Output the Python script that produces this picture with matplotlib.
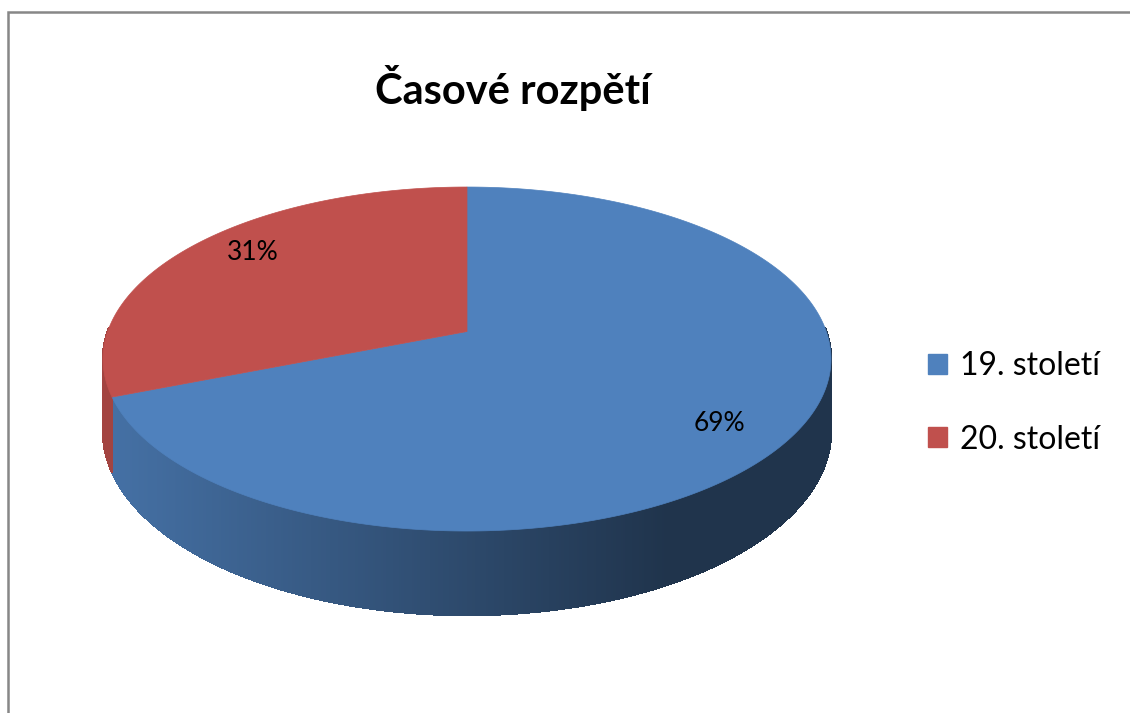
import numpy as np
import matplotlib
matplotlib.use("Agg")
import matplotlib.pyplot as plt
from matplotlib.collections import PolyCollection
from matplotlib.patches import Polygon, Patch
from matplotlib.colors import to_rgb

title = "Časové rozpětí"
categories = ["19. století", "20. století"]
values = [69, 31]
colors = ["#4F81BD", "#C0504D"]

FONT = ["Lato", "DejaVu Sans"]
W, H = 1130, 713
fig = plt.figure(figsize=(11.3, 7.13), dpi=100)
ax = fig.add_axes([0, 0, 1, 1])
ax.set_xlim(0, W)
ax.set_ylim(H, 0)
ax.axis("off")

# border of chart area (left + top visible)
ax.plot([8, 8, W + 5], [H + 5, 12, 12], color="#878787", lw=1.8,
        solid_joinstyle="miter", clip_on=False)

# perspective pie geometry
cx, cy, rx, ry, depth, persp = 467, 331.5, 359.3, 167.6, 70.6, 0.16
total = float(sum(values))

def proj(X, Y):
    s = 1.0 / (1.0 + persp * Y)
    return cx + rx * X * s, cy - ry * Y * s, s

def pt(t, k=1.0):
    r = np.radians(t)
    x, y, s = proj(k * np.cos(r), k * np.sin(r))
    return x, y, s

ranges = []
a = 90.0
for v in values:
    sweep = 360.0 * v / total
    ranges.append((a - sweep, a))
    a -= sweep

xs_f = [0.0, 0.5, 0.78, 1.0]
fs = [0.88, 0.57, 0.40, 0.40]

polys, fcs = [], []
for (t1, t2), col in zip(ranges, colors):
    base = np.array(to_rgb(col))
    ts = np.linspace(t1, t2, 700)
    for u, w in zip(ts[:-1], ts[1:]):
        m = 0.5 * (u + w)
        if np.sin(np.radians(m)) >= 0.02:
            continue
        x1, y1, s1 = pt(u)
        x2, y2, s2 = pt(w)
        polys.append([(x1, y1), (x2, y2), (x2, y2 + depth * s2), (x1, y1 + depth * s1)])
        xm = 0.5 * (x1 + x2)
        frac = (xm - (cx - rx * 1.013)) / (2 * rx * 1.013)
        f = np.interp(frac, xs_f, fs)
        if col == colors[1]:
            f = 0.85
        fcs.append(tuple(np.clip(base * f, 0, 1)))
pc = PolyCollection(polys, facecolors=fcs, edgecolors=fcs, linewidths=1.0,
                    antialiased=False)
ax.add_collection(pc)

# top faces
for (t1, t2), col in zip(ranges, colors):
    ts = np.linspace(t1, t2, 400)
    xy = [pt(t)[:2] for t in ts]
    cxy = proj(0, 0)[:2]
    ax.add_patch(Polygon(xy + [cxy], closed=True, facecolor=col, edgecolor=col, lw=0.5))

# data labels
for (t1, t2), v in zip(ranges, values):
    lx, ly, _ = pt(0.5 * (t1 + t2) - 4.0, 0.82)
    ax.text(lx, ly, f"{v/total*100:.0f}%", ha="center", va="center",
            fontsize=19, family=FONT, color="black")

ax.text(513, 88, title, ha="center", va="center", fontsize=30,
        fontweight="bold", family=FONT, color="black")

handles = [Patch(facecolor=c, edgecolor=c) for c in colors]
leg = ax.legend(handles, categories, loc="center left",
                bbox_to_anchor=(899 / W, 1 - 403 / H), frameon=False,
                prop={"family": FONT, "size": 23}, handlelength=0.6,
                handleheight=0.6, handletextpad=0.4, labelspacing=1.35)

fig.savefig("out.png", dpi=100, facecolor="white")
